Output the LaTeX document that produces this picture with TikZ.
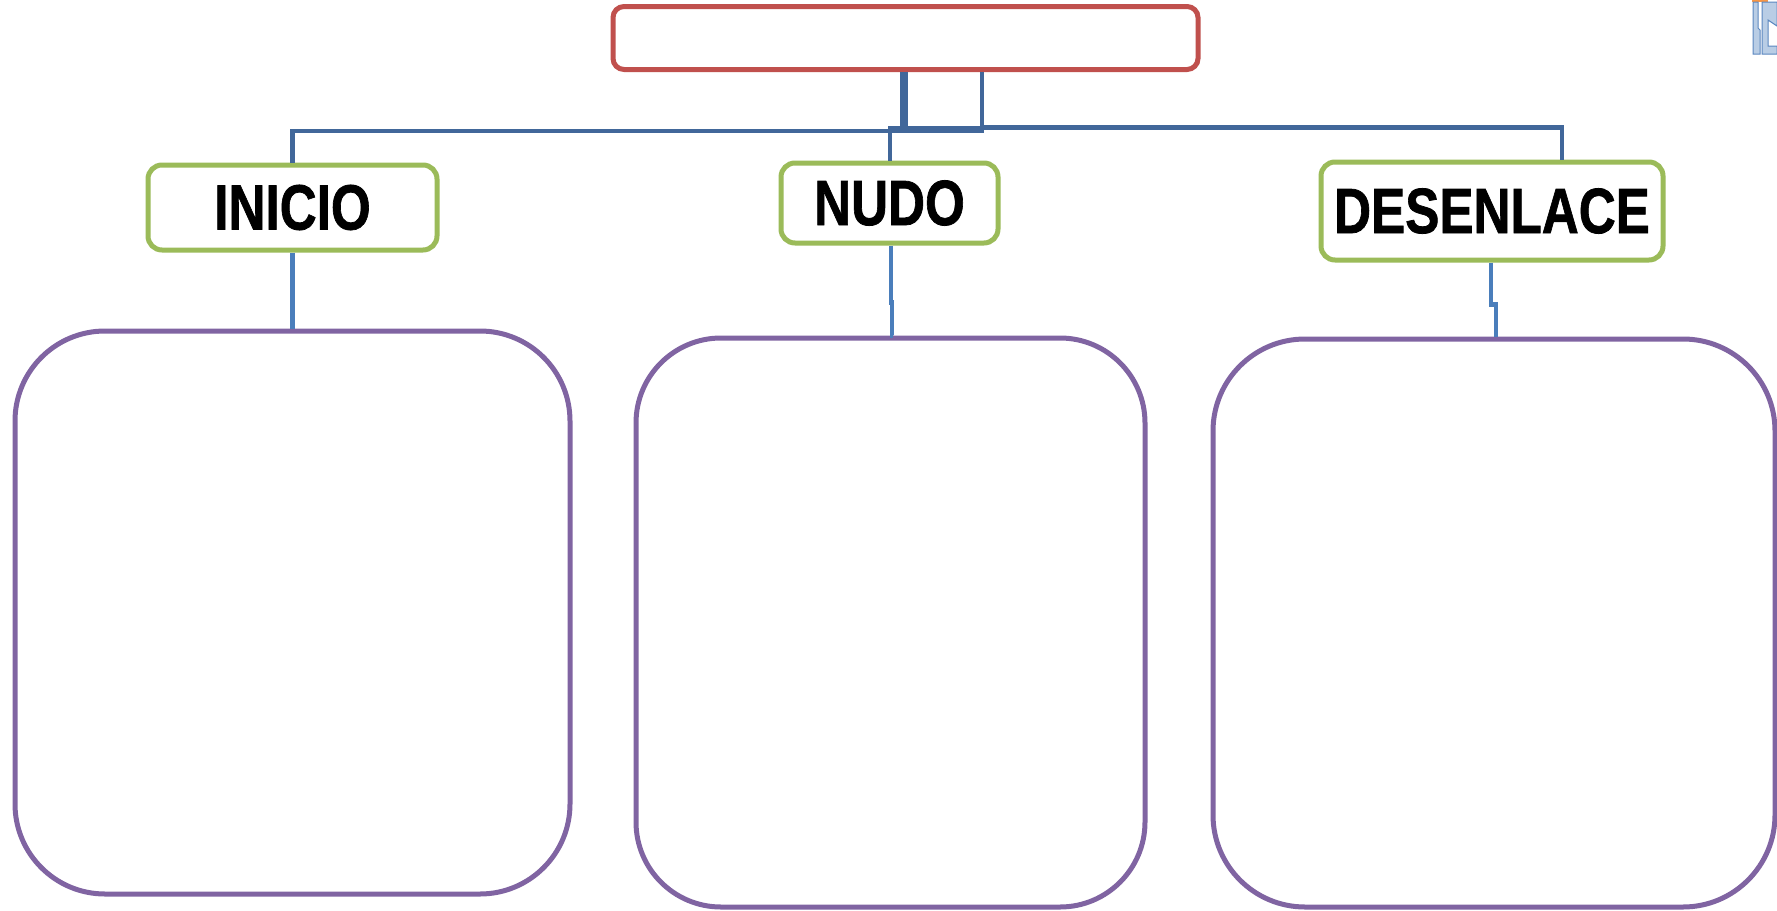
\documentclass[tikz,border=0pt]{standalone}
\usepackage{fontspec}
\setmainfont{Liberation Sans}[BoldFeatures={FakeBold=1.2}]
\definecolor{redb}{HTML}{C0504D}
\definecolor{greenb}{HTML}{9BBB59}
\definecolor{purpleb}{HTML}{8064A2}
\definecolor{blued}{HTML}{41679A}
\definecolor{bluel}{HTML}{4A7EBB}
\definecolor{iconfill}{HTML}{B9CDE5}
\definecolor{iconline}{HTML}{5B87C0}
\definecolor{orangeb}{HTML}{F79646}
\tikzset{
  topbox/.style={draw=redb, line width=5pt, rounded corners=11pt, fill=white, inner sep=0pt},
  labbox/.style={draw=greenb, line width=5pt, rounded corners=14pt, fill=white, inner sep=0pt,
    font=\fontsize{64}{64}\selectfont\bfseries},
  bigbox/.style={draw=purpleb, line width=5pt, fill=white, inner sep=0pt},
  conn/.style={draw=blued, line width=4.5pt},
  connthick/.style={draw=blued, line width=8pt},
  connl/.style={draw=bluel, line width=4.5pt},
}
\newcommand{\narrow}[1]{\scalebox{0.8}[1]{#1}}
\begin{document}
\begin{tikzpicture}[x=1pt,y=-1pt]
\useasboundingbox[fill=white] (0,0) rectangle (1777,910);
% top-right clip-art fragment
\fill[orangeb] (1752,0) rectangle (1768,2);
\draw[iconline, fill=iconfill, line width=1pt] (1753,2) -- (1753,54) -- (1760,54) -- (1760,30) -- (1758,28) -- (1758,2) -- cycle;
\draw[iconline, fill=iconfill, line width=1pt] (1762,2) -- (1762,54) -- (1777,54) -- (1777,46) -- (1768,46) -- (1768,20) -- (1777,26) -- (1777,2) -- cycle;
% boxes
\node[topbox, minimum width=585, minimum height=63] (top) at (905.5,38) {};
\node[labbox, minimum width=289, minimum height=85] (inicio) at (292.5,207.5) {\narrow{INICIO}};
\node[labbox, minimum width=217, minimum height=80] (nudo) at (889.5,203) {\narrow{NUDO}};
\node[labbox, minimum width=342, minimum height=98] (desenlace) at (1492,211) {\narrow{DESENLACE}};
\node[bigbox, rounded corners=90pt, minimum width=555, minimum height=563] (box1) at (292.5,612.5) {};
\node[bigbox, rounded corners=85pt, minimum width=509, minimum height=569] (box2) at (890.5,622.5) {};
\node[bigbox, rounded corners=92pt, minimum width=562, minimum height=568] (box3) at (1494,623) {};
% upper connectors
\coordinate (hubL) at (888,129.5);
\coordinate (hubR) at (984,129.5);
\draw[connthick] ([xshift=-1.5pt]top.south) -- ([xshift=-1.5pt]top.south |- hubL);
\draw[conn] ([xshift=76.5pt]top.south) -- ([xshift=76.5pt]top.south |- hubL);
\draw[connthick, line width=7pt] (hubL) -- (hubR);
\draw[conn] ([yshift=-1.5pt]hubL) -| (inicio.north);
\draw[conn] ([yshift=2pt]hubR) -| ([xshift=70pt]desenlace.north);
\draw[conn] ([xshift=2pt]hubL) -- ([xshift=2pt]hubL |- nudo.north);
% lower connectors
\draw[connl] (inicio.south) -- (box1.north);
\draw[connl] ([xshift=1.5pt]nudo.south) -- ++(0,57) -- ++(1,0) |- ([xshift=2pt]box2.north);
\draw[connl] ([xshift=-1pt]desenlace.south) -- ++(0,42) -| ([xshift=2pt]box3.north);
\end{tikzpicture}
\end{document}
